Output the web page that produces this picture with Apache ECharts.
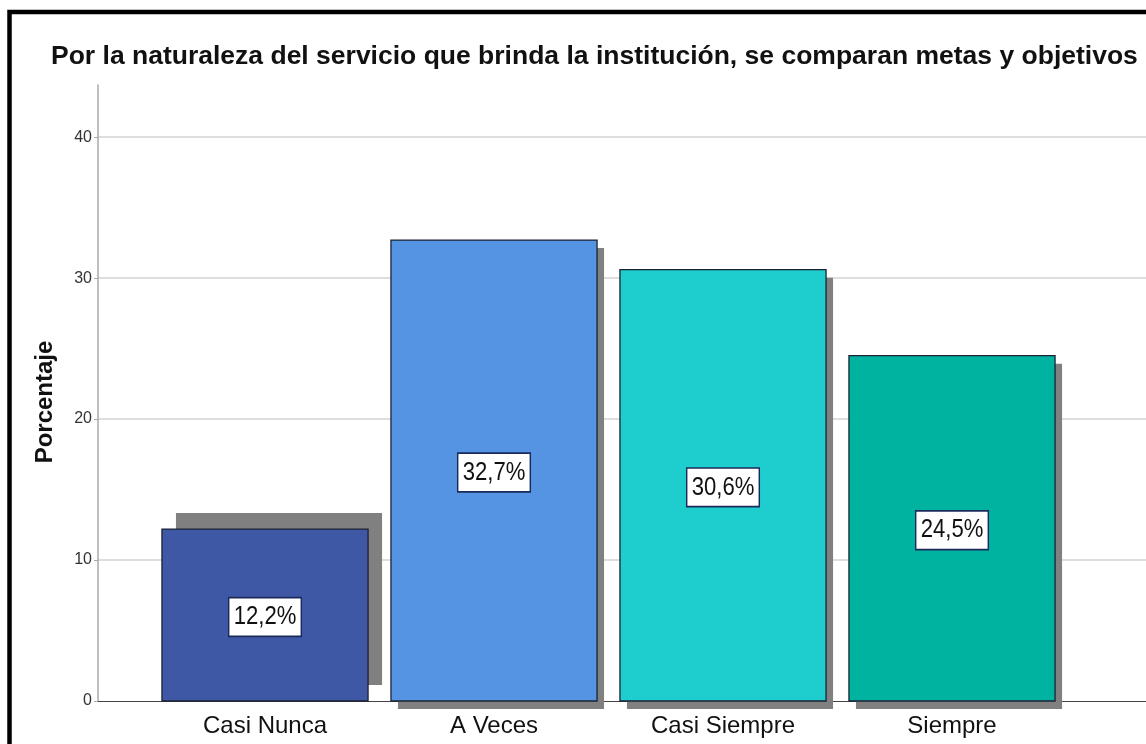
<!DOCTYPE html>
<html>
<head>
<meta charset="utf-8">
<script src="https://cdn.jsdelivr.net/npm/echarts@6/dist/echarts.min.js"></script>
<style>
html,body{margin:0;padding:0;background:#fff;}
#chart{width:1146px;height:744px;}
</style>
</head>
<body>
<div id="chart"></div>
<script>
const titleText = 'Por la naturaleza del servicio que brinda la institución, se comparan metas y objetivos';
const categories = ['Casi Nunca', 'A Veces', 'Casi Siempre', 'Siempre'];
const values = [12.2, 32.7, 30.6, 24.5];
const yTicks = [0, 10, 20, 30, 40];
const yAxisName = 'Porcentaje';

const barColors = ['#3f58a6', '#5494e2', '#1ecdcd', '#00b3a0'];
const shadowOffsets = [[14, -16], [7, 8], [7, 8], [7, 8]];
const FONT = '"Liberation Sans", Arial, sans-serif';
const YMAX = 43.7;

const chart = echarts.init(document.getElementById('chart'), null, {renderer: 'canvas'});

const option = {
  backgroundColor: '#fff',
  animation: false,
  title: {
    text: titleText,
    left: 46,
    top: 38,
    textStyle: {fontFamily: FONT, fontWeight: 'bold', fontSize: 26.5, color: '#111'}
  },
  grid: [
    {left: 98, right: 0, top: 85, bottom: 43, containLabel: false},
    {left: 150.5, width: 916, top: 85, bottom: 43, containLabel: false}
  ],
  xAxis: [
    {
      gridIndex: 0, type: 'value', min: 0, max: 1,
      axisLine: {show: true, onZero: true, lineStyle: {color: '#444', width: 1.2}},
      axisTick: {show: false}, axisLabel: {show: false}, splitLine: {show: false}
    },
    {
      gridIndex: 1, type: 'category', data: categories,
      axisLine: {show: false}, axisTick: {show: false},
      axisLabel: {fontFamily: FONT, fontSize: 24, color: '#111', margin: 13}
    }
  ],
  yAxis: [
    {
      gridIndex: 0, type: 'value', min: yTicks[0], max: YMAX, interval: 10,
      name: yAxisName, nameLocation: 'middle', nameGap: 41,
      nameTextStyle: {fontFamily: FONT, fontWeight: 'bold', fontSize: 24, color: '#111', padding: [0, 18, 0, 0]},
      axisLine: {show: true, lineStyle: {color: '#aaa', width: 1.5}},
      axisTick: {show: true, length: 4, lineStyle: {color: '#aaa'}},
      axisLabel: {
        fontFamily: FONT, fontSize: 16, color: '#333', margin: 6, showMaxLabel: false,
        formatter: v => (yTicks.indexOf(v) >= 0 ? String(v) : '')
      },
      splitLine: {show: true, showMinLine: false, showMaxLine: false, lineStyle: {color: '#d3d3d3', width: 1.5}}
    },
    {
      gridIndex: 1, type: 'value', min: yTicks[0], max: YMAX, show: false
    }
  ],
  series: [{
    type: 'custom',
    xAxisIndex: 1, yAxisIndex: 1,
    data: values.map((v, i) => [i, v]),
    renderItem: function (params, api) {
      const i = api.value(0);
      const v = api.value(1);
      const top = api.coord([i, v]);
      const base = api.coord([i, 0]);
      const w = api.size([1, 0])[0] * 0.9;
      const x0 = top[0] - w / 2;
      const h = base[1] - top[1];
      const so = shadowOffsets[i];
      const mid = api.coord([i, v / 2]);
      const label = v.toFixed(1).replace('.', ',') + '%';
      return {
        type: 'group',
        children: [
          {type: 'rect', shape: {x: x0 + so[0], y: top[1] + so[1], width: w, height: h},
           style: {fill: '#808080'}},
          {type: 'rect', shape: {x: x0, y: top[1], width: w, height: h},
           style: {fill: barColors[i], stroke: '#1c2233', lineWidth: 1.3}},
          {type: 'text', x: mid[0], y: mid[1] + 2, scaleX: 0.85,
           style: {text: label, fontFamily: FONT, fontSize: 26, fill: '#111',
                   align: 'center', verticalAlign: 'middle',
                   backgroundColor: '#fff', borderColor: '#1a2a5a', borderWidth: 1.7,
                   padding: [6, 5, 5, 5]}}
        ]
      };
    }
  }],
  graphic: [{
    type: 'polyline', z: 100,
    shape: {points: [[9.5, 744], [9.5, 12], [1146, 12]]},
    style: {stroke: '#000', lineWidth: 4.5, fill: null}
  }]
};
chart.setOption(option);
</script>
</body>
</html>
